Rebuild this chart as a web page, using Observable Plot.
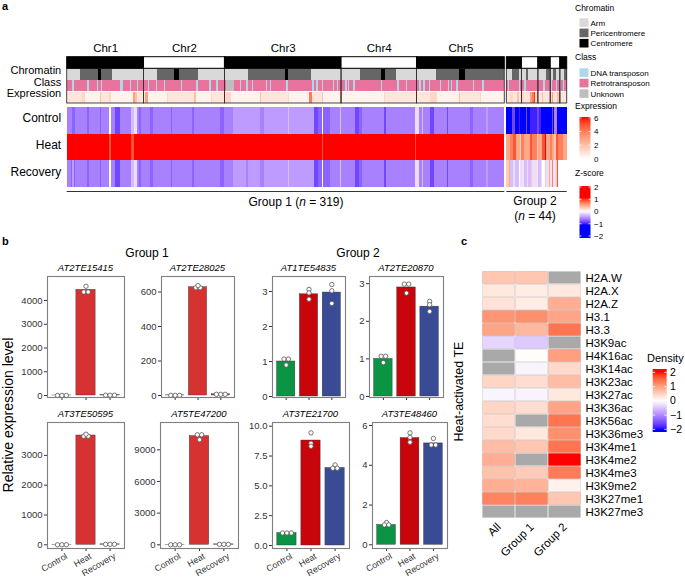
<!DOCTYPE html>
<html><head><meta charset="utf-8">
<script src="https://cdn.jsdelivr.net/npm/d3@7"></script>
<script src="https://cdn.jsdelivr.net/npm/@observablehq/plot@0.6"></script>
<style>
html,body{margin:0;padding:0;background:#fff;}
#fig{position:relative;width:685px;height:578px;overflow:hidden;background:#fff;font-family:"Liberation Sans",Arial,Helvetica,sans-serif;}
</style></head><body><div id="fig"></div>
<script>
// ---------------- DATA ----------------
// Panel a: run-length strings (count + level letter)
const chromosomes = ["Chr1","Chr2","Chr3","Chr4","Chr5"];
const chromatinNames = {a:"Arm", p:"Pericentromere", c:"Centromere"};
const classNames = {r:"Retrotransposon", d:"DNA transposon", u:"Unknown"};
const exprLevels = {a:0.1,b:0.4,c:0.8,d:1.3,e:2,f:3,g:4,h:5.5};
const zLevels = {a:-1.15,b:-1.0,c:-0.85,d:-0.72,e:-0.58,f:-0.45,g:-0.3,h:-0.15,i:0,j:0.15,k:0.3,l:0.5,m:0.7,n:0.9,o:1.15};

const g1Chromatin = ["10a13p2c8p23a","10a12p4c14p19a","17a27p2c17p22a","14a15p3c8p15a","14a17p4c29p"];
const g1Class = ["4r1d10r1d6r1d2r1d13r2d5r1d4r1d4r","3r1d5r1d5r1d11r1d10r2d8r1d4r1d5r","1r6u4r1d4r1d3r1d9r1d2r1d11r1d18r1d2r1d3r1d7r1d2r1d2r","3r1d1r1d3r1d19r1d11r1d5r1d7r","2r1d2r1d3r1d7r1d5r1d1r1d3r1d11r1d6r1d15r"];
const g1Expression = "11c2d11b1e6c1d16b2f1e6c2f14b1d19c1e11b1d9c5d21b1e19c1d15b2g7c1e12b2e30b1d33c5d16b1e14c1d17b";
const g1Control = "4e2d9e1d8e1d6e1i3e4c8e2g2h2e1d7e2d13e1d14e2d19e3d6e20f3e17f1g18f3c2d1d1i5d6e1e1g10e3c2d13e3e2c21e3h2e1g5e3c9e1c16e2d10e1f12e";
const g1Heat = "31o1n15o2n137o1n67o1n64o";
const g1Recovery = "3e1d1f1d9e1d8e1d6e1i3e4c8e2g2h2e1d7e2d13e1d14e2d19e3d6e10f1e9f3e17f1g18f3c2d1d1i5d6e1e1g10e3c2d13e3e2c21e3h2e1g5e3c9e1c16e2d10e1f12e";

const g2ChrCounts = [11,12,9,7,5];
const g2Chromatin = "4a5p5a2p13a3p2a2p6a2p";
const g2Class = "1r1d7r1d3r1d13r1d4r1d3r1d2r1d1r1d2r";
const g2Expression = "3c2d3c1e2c2d4c2f1g1h2d3c1e4c2d1f3c2e1d4c";
const g2Control = "4a2c3a1b4a1c2a5b2c1b8a1c1a2e7a";
const g2Heat = "3l2m2n3l1k2m4l2n3m1k3l2n1o3l1m2l1k2n3m3l";
const g2Recovery = "2k1l2g1h3g1i2h1j2g1h2g1k3h1j2g1h2i1k2h1l1j1m2h1k1n5i";
const groupNames = ["Group 1","Group 2"];
const groupSizes = [319,44];

// Panel b
const conditions = ["Control","Heat","Recovery"];
const genes = ["AT2TE15415","AT2TE28025","AT1TE54835","AT2TE20870","AT3TE50595","AT5TE47200","AT3TE21700","AT3TE48460"];
const geneGroup = [1,1,2,2,1,1,2,2];
const barMeans = [[1,4450,13],[1,628,7],[1.0,2.92,2.97],[1.0,2.9,2.39],[1,3668,16],[1,10300,42],[1.05,8.8,6.5],[1.0,5.37,5.1]];
const replicates = [
  [[1,1,1],[4360,4360,4600],[12,14,13]],
  [[1,1,1],[625,625,637],[7,7,7]],
  [[1.07,1.07,0.9],[3.06,2.96,2.78],[3.2,3.02,2.66]],
  [[1.07,1.07,0.9],[2.99,2.99,2.75],[2.53,2.44,2.26]],
  [[1,1,1],[3645,3645,3710],[16,16,16]],
  [[1,1,1],[10420,10420,9950],[42,42,42]],
  [[1.05,1.05,1.05],[9.44,8.57,8.32],[6.75,6.48,6.48]],
  [[1.12,1.0,1.0],[5.63,5.4,5.16],[5.35,5.02,5.02]]
];
const yTicks = [[0,1000,2000,3000,4000],[0,200,400,600],[0,1,2,3],[0,1,2,3],[0,1000,2000,3000],[0,3000,6000,9000],[0,2.5,5,7.5,10],[0,2,4,6]];

// Panel c
const histoneMarks = ["H2A.W","H2A.X","H2A.Z","H3.1","H3.3","H3K9ac","H4K16ac","H3K14ac","H3K23ac","H3K27ac","H3K36ac","H3K56ac","H3K36me3","H3K4me1","H3K4me2","H3K4me3","H3K9me2","H3K27me1","H3K27me3"];
const densityColumns = ["All","Group 1","Group 2"];
const densityAll = [0.6,0.25,0.3,1.1,0.95,-0.35,null,null,0.45,-0.08,0.45,0.35,0.4,0.7,0.85,0.65,0.85,1.25,null];
const densityG1  = [0.6,0.2,0.2,1.15,0.75,-0.45,0.02,-0.08,0.35,-0.1,0.35,null,0.25,0.6,null,0.55,0.8,1.3,null];
const densityG2  = [null,0.25,0.85,0.95,1.4,null,1.0,0.4,0.7,0.25,0.95,1.4,1.15,1.4,2.0,1.35,0.15,0.6,null];

// ---------------- LAYOUT / STYLE ----------------
const W = 685, H = 578;
const FONT = "'Liberation Sans', Arial, Helvetica, sans-serif";
const fig = document.getElementById("fig");
function add(node){ node.style.position="absolute"; node.style.left="0px"; node.style.top="0px"; fig.appendChild(node); return node; }
function frameOpts(x1,x2,y1,y2,extra={}){
  return {width:W,height:H,marginLeft:x1,marginRight:W-x2,marginTop:y1,marginBottom:H-y2,
    style:Object.assign({background:"transparent",fontFamily:FONT,overflow:"visible"},extra)};
}
function expand(s){const out=[];for(const m of s.matchAll(/(\d+)([a-z])/g)){for(let k=0;k<+m[1];k++)out.push(m[2]);}return out;}

const chromFill = Plot.scale({color:{type:"ordinal",domain:["Arm","Pericentromere","Centromere"],range:["#d9d9d9","#666666","#000000"]}});
const classFill = Plot.scale({color:{type:"ordinal",domain:["DNA transposon","Retrotransposon","Unknown"],range:["#add8e6","#e8739c","#bebebe"]}});
const exprFill = Plot.scale({color:{type:"linear",domain:[0,6],range:["#ffffff","#ff0000"],interpolate:"lab",clamp:true}});
const zScaleOpts = {type:"linear",domain:[-1.08,0,1.08],range:["#0000ff","#ffffff","#ff0000"],interpolate:"lab",clamp:true};
const zFill = Plot.scale({color:zScaleOpts});
const densScaleOpts = {type:"linear",domain:[-2,0,2],range:["#0000ff","#ffffff","#ff0000"],interpolate:"lab",clamp:true};
const densFill = Plot.scale({color:densScaleOpts});

// ---------------- BUILD panel a tables ----------------
const GAP = 1.5;
const tes = [], zcells = [], blocks = [];
function addGroup(gi, offset, chromatinStr, classStr, chrCounts, expr, ctl, heat, rec){
  const cm = expand(chromatinStr), cl = expand(classStr), ex = expand(expr);
  const zz = [expand(ctl), expand(heat), expand(rec)];
  let i = 0;
  chrCounts.forEach((n,ci)=>{ blocks.push({group:gi, chr:chromosomes[ci], x1:offset+i, x2:offset+i+n, dark: ci%2===0}); i+=n; });
  for (let j=0;j<cm.length;j++){
    tes.push({x1:offset+j, x2:offset+j+1, chromatin:chromatinNames[cm[j]], klass:classNames[cl[j]], expr:exprLevels[ex[j]]});
    conditions.forEach((c,r)=>zcells.push({x1:offset+j, x2:offset+j+1, row:r, z:zLevels[zz[r][j]]}));
  }
}
addGroup(0, 0, g1Chromatin.join(""), g1Class.join(""), g1Chromatin.map(s=>expand(s).length), g1Expression, g1Control, g1Heat, g1Recovery);
addGroup(1, groupSizes[0]+GAP, g2Chromatin, g2Class, g2ChrCounts, g2Expression, g2Control, g2Heat, g2Recovery);
const XMAX = groupSizes[0]+GAP+groupSizes[1];
const groups = groupNames.map((g,i)=>({name:g, n:groupSizes[i], x1: i===0?0:groupSizes[0]+GAP, x2: i===0?groupSizes[0]:XMAX}));

const HM_L = 66.7, HM_R = 566.7;

// z-score heatmap
add(Plot.plot({...frameOpts(HM_L,HM_R,107,187),
  x:{domain:[0,XMAX],axis:null}, y:{domain:[0,3],reverse:true,axis:null},
  color:zScaleOpts,
  marks:[
    Plot.rect(zcells,{x1:"x1",x2:"x2",y1:"row",y2:d=>d.row+1,fill:"z",shapeRendering:"crispEdges"}),
    Plot.text(conditions,{x:0,y:(d,i)=>i+0.5,text:d=>d,dx:-6,dy:-2.5,textAnchor:"end",fontSize:12,fill:"#000"}),
    Plot.ruleY(groups,{y:3,x1:"x1",x2:"x2",dy:4,stroke:"#333",strokeWidth:1.1})
  ]}));

// annotation rows
add(Plot.plot({...frameOpts(HM_L,HM_R,56.7,103),
  x:{domain:[0,XMAX],axis:null}, y:{domain:[0,4],reverse:true,axis:null},
  color:{type:"identity"},
  marks:[
    Plot.rect(tes,{x1:"x1",x2:"x2",y1:1,y2:2,fill:d=>chromFill.apply(d.chromatin),insetTop:0.7,shapeRendering:"crispEdges"}),
    Plot.rect(tes,{x1:"x1",x2:"x2",y1:2,y2:3,fill:d=>classFill.apply(d.klass),insetTop:0.5,shapeRendering:"crispEdges"}),
    Plot.rect(tes,{x1:"x1",x2:"x2",y1:3,y2:4,fill:d=>exprFill.apply(d.expr),insetTop:0.5,shapeRendering:"crispEdges"}),
    Plot.rect(blocks,{x1:"x1",x2:"x2",y1:1,y2:4,fill:"none",stroke:"#333",strokeWidth:0.9}),
    Plot.rect(blocks,{x1:"x1",x2:"x2",y1:0,y2:1,fill:d=>d.dark?"#000000":"#ffffff",stroke:"#000",strokeWidth:1}),
    Plot.text(blocks.filter(d=>d.group===0),{x:d=>(d.x1+d.x2)/2,y:0,dy:-9,text:"chr",fontSize:11.5,fill:"#000"}),
    Plot.text(["Chromatin","Class","Expression"],{x:0,y:(d,i)=>i+1.5,text:d=>d,dx:-6,dy:-4,textAnchor:"end",fontSize:11,fill:"#000"})
  ]}));

// ---------------- panel b ----------------
const bFrames = [[47,124,276,397],[161,234,276,397],[272,345,276,397],[369,443,276,397],[47,124,422,548],[160,238,422,548],[272,349,422,548],[372,447,422,548]];
const bZeroPx = [395,395,396,396,544.3,544.3,545,544.3];
const bPxPerUnit = [0.02375,0.1725,35,37.6,0.0298,0.010556,11.93,19.88];
const g1Color = "#d73232";
const g2Colors = ["#0b9444","#c8050a","#3a4b96"];
function swarm(vals, pyu, pxu){
  const idx = vals.map((v,i)=>i).sort((a,b)=>vals[a]-vals[b]);
  const cl=[];
  for(const i of idx){const last=cl[cl.length-1]; if(last && Math.abs(vals[i]-vals[last[0]])*pyu<1.8) last.push(i); else cl.push([i]);}
  const off=new Array(vals.length).fill(0);
  for(const c of cl) c.forEach((i,j)=>{off[i]=(j-(c.length-1)/2)*4.4/pxu;});
  return off;
}
genes.forEach((g,k)=>{
  const [x1,x2,y1,y2] = bFrames[k];
  const z0 = bZeroPx[k], ppu = bPxPerUnit[k];
  const dom = [-(y2-z0)/ppu, (z0-y1)/ppu];
  const pxu = (x2-x1)/3.2;
  const bars = conditions.map((c,i)=>({i:i+1, mean:barMeans[k][i], color: geneGroup[k]===1?g1Color:g2Colors[i]}));
  const pts = [];
  conditions.forEach((c,i)=>{ const v = replicates[k][i]; const off = swarm(v,ppu,pxu); v.forEach((val,j)=>pts.push({x:i+1+off[j], v:val})); });
  const bottom = k>=4;
  const fmt = k===6 ? d3.format(".1f") : d3.format("d");
  add(Plot.plot({...frameOpts(x1,x2,y1,y2,{fontSize:"9.5px",color:"#333"}),
    x:{domain:[0.4,3.6],ticks:[1,2,3],tickFormat:()=>"",tickSize:3,label:null},
    y:{domain:dom,ticks:yTicks[k],tickFormat:fmt,tickSize:3,tickPadding:2,label:null},
    color:{type:"identity"},
    marks:[
      Plot.rect(bars,{x1:d=>d.i-0.4,x2:d=>d.i+0.4,y1:0,y2:"mean",fill:"color",stroke:"#333",strokeWidth:0.4}),
      Plot.dot(pts,{x:"x",y:"v",r:2.2,fill:"#fff",stroke:"#555",strokeWidth:0.8}),
      Plot.frame({stroke:"#7f7f7f",strokeWidth:1.1}),
      ...(bottom?[Plot.text(conditions,{x:(d,i)=>i+1,y:dom[0],text:d=>d,dy:4,dx:3,rotate:-30,textAnchor:"end",lineAnchor:"top",fontSize:8.8,fill:"#333"})]:[])
    ]}));
});

// ---------------- panel c ----------------
const densCols = [densityAll,densityG1,densityG2];
const dcells = histoneMarks.flatMap((m,i)=>densityColumns.map((c,j)=>({mark:m,col:c,v:densCols[j][i]})));
add(Plot.plot({...frameOpts(482,581,267.3,521.7,{fontSize:"11.5px",color:"#000"}),
  x:{domain:densityColumns,padding:0,tickRotate:-45,tickSize:0,tickPadding:3,label:null},
  y:{domain:histoneMarks,padding:0,axis:"right",tickSize:0,tickPadding:4,label:null},
  color:densScaleOpts,
  marks:[
    Plot.cell(dcells,{x:"col",y:"mark",fill:"#a9a9a9",inset:0.4}),
    Plot.cell(dcells.filter(d=>d.v!=null),{x:"col",y:"mark",fill:"v",inset:0.4})
  ]}));

// ---------------- text & legends overlay ----------------
const svg = d3.create("svg").attr("width",W).attr("height",H).style("font-family",FONT);
add(svg.node());
function txt(x,y,s,a={}){const t=svg.append("text").attr("x",x).attr("y",y).text(s);for(const k in a)t.attr(k,a[k]);return t;}
txt(2,10,"a",{"font-weight":"bold","font-size":11});
txt(2,245,"b",{"font-weight":"bold","font-size":11});
txt(461,245,"c",{"font-weight":"bold","font-size":11});

// group labels panel a
const gl1 = txt(296,205.5,"",{"text-anchor":"middle","font-size":12});
gl1.append("tspan").text(groups[0].name+" (");gl1.append("tspan").attr("font-style","italic").text("n");gl1.append("tspan").text(" = "+groups[0].n+")");
txt(535,205,groups[1].name,{"text-anchor":"middle","font-size":12});
const gl2 = txt(535,219.5,"",{"text-anchor":"middle","font-size":12});
gl2.append("tspan").text("(");gl2.append("tspan").attr("font-style","italic").text("n");gl2.append("tspan").text(" = "+groups[1].n+")");

// panel a legends
const LX = 579.5;
txt(575,10.5,"Chromatin",{"font-size":8.5});
chromFill.domain.forEach((d,i)=>{svg.append("rect").attr("x",LX).attr("y",18.3+i*10.3).attr("width",9).attr("height",8.6).attr("fill",chromFill.apply(d));txt(590.5,25.5+i*10.3,d,{"font-size":8});});
txt(575,59.7,"Class",{"font-size":8.5});
classFill.domain.forEach((d,i)=>{svg.append("rect").attr("x",LX).attr("y",68.3+i*10.5).attr("width",9).attr("height",8.6).attr("fill",classFill.apply(d));txt(590.5,75.5+i*10.5,d,{"font-size":8});});
const defs = svg.append("defs");
function vGrad(id,sc,vTop,vBot){const g=defs.append("linearGradient").attr("id",id).attr("x1",0).attr("x2",0).attr("y1",0).attr("y2",1);for(let k=0;k<=40;k++){const v=vTop+(vBot-vTop)*k/40;g.append("stop").attr("offset",k/40).attr("stop-color",sc.apply(v));}}
function colorbar(id,sc,x,w,yTop,yBot,vAtTopLabel,yTopLabel,vAtBotLabel,yBotLabel,labels,lx,fs,fmt){
  const ppv=(yBotLabel-yTopLabel)/(vAtTopLabel-vAtBotLabel);
  const vt=vAtTopLabel+(yTopLabel-yTop)/ppv, vb=vAtBotLabel-(yBot-yBotLabel)/ppv;
  vGrad(id,sc,vt,vb);
  svg.append("rect").attr("x",x).attr("y",yTop).attr("width",w).attr("height",yBot-yTop).attr("fill",`url(#${id})`);
  labels.forEach(v=>{const y=yTopLabel+(vAtTopLabel-v)*ppv;
    svg.append("line").attr("x1",x).attr("x2",x+w*0.18).attr("y1",y).attr("y2",y).attr("stroke","#fff").attr("stroke-width",0.8);
    svg.append("line").attr("x1",x+w*0.82).attr("x2",x+w).attr("y1",y).attr("y2",y).attr("stroke","#fff").attr("stroke-width",0.8);
    txt(lx,y+fs*0.35,fmt(v),{"font-size":fs});});
}
const minus = v => (v<0?"\u2212"+Math.abs(v):String(v));
txt(575,109,"Expression",{"font-size":8.5});
colorbar("gExpr",exprFill,LX,11,117,160,6,118,0,158.7,[6,4,2,0],594,8,minus);
txt(575,176,"Z-score",{"font-size":8.5});
colorbar("gZ",zFill,LX,11,186,238,2,187,-2,236,[2,1,0,-1,-2],594,8,minus);

// panel b texts
txt(147,256.5,"Group 1",{"text-anchor":"middle","font-size":12});
txt(358,256.5,"Group 2",{"text-anchor":"middle","font-size":12});
genes.forEach((g,k)=>{const [x1,x2,y1]=bFrames[k];txt((x1+x2)/2,y1-5.5,g,{"text-anchor":"middle","font-size":9.5,"font-style":"italic"});});
txt(0,0,"Relative expression level",{"text-anchor":"middle","font-size":14,transform:"translate(12.5,415) rotate(-90)"});

// panel c texts
txt(0,0,"Heat-activated TE",{"text-anchor":"middle","font-size":12.5,transform:"translate(462.5,391.5) rotate(-90)"});
txt(647,362,"Density",{"font-size":11});
colorbar("gD",densFill,652.7,14,369,432,2,372.3,-2,429.3,[2,1,0,-1,-2],670,10.5,minus);
</script></body></html>
